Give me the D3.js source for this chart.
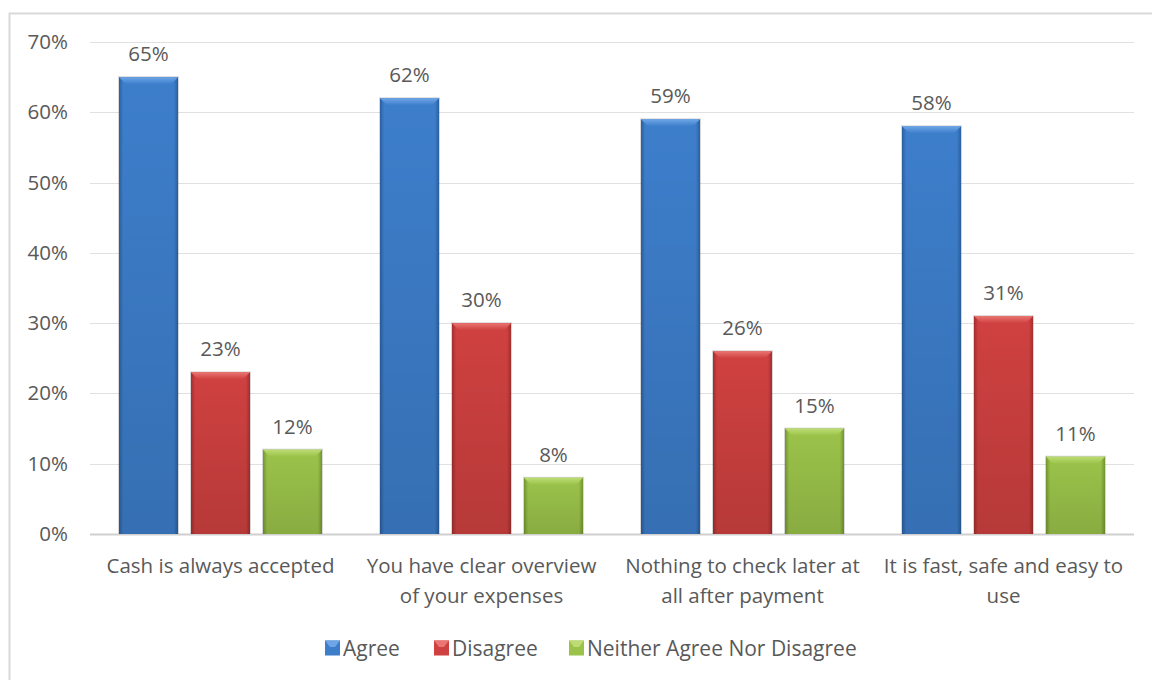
<!DOCTYPE html>
<html>
<head>
<meta charset="utf-8">
<script src="https://cdn.jsdelivr.net/npm/d3@7"></script>
<style>
  html, body { margin: 0; padding: 0; background: #fff; }
  svg { display: block; }
  text { font-family: "Open Sans", "Noto Sans", sans-serif; fill: #595959; }
</style>
</head>
<body>
<svg id="chart" width="1152" height="680"></svg>
<script>
// Survey statements and responses (percent)
const categories = [
  ["Cash is always accepted"],
  ["You have clear overview", "of your expenses"],
  ["Nothing to check later at", "all after payment"],
  ["It is fast, safe and easy to", "use"]
];
const seriesNames = ["Agree", "Disagree", "Neither Agree Nor Disagree"];
const agree = [65, 62, 59, 58];
const disagree = [23, 30, 26, 31];
const neither = [12, 8, 15, 11];
const yTicks = [0, 10, 20, 30, 40, 50, 60, 70];

const palette = [
  { base: "#3d7ecb", light: "#6ea5e6", dark: "#2a5f9f" },
  { base: "#cf4140", light: "#ea7572", dark: "#a12f2e" },
  { base: "#9bc34a", light: "#bddc74", dark: "#739630" }
];

const seriesValues = [agree, disagree, neither];

const svg = d3.select("#chart");
const W = 1152, H = 680;
const margin = { left: 90, right: 18, top: 42, bottom: 146 };
const plotRight = W - margin.right;
const plotBottom = H - margin.bottom;

// outer frame
svg.append("rect")
  .attr("x", 9.5).attr("y", 13.5)
  .attr("width", 1160).attr("height", 700)
  .attr("fill", "none").attr("stroke", "#d9d9d9").attr("stroke-width", 2);

const y = d3.scaleLinear().domain([0, 70]).range([plotBottom, margin.top]);
const x0 = d3.scaleBand().domain(d3.range(categories.length))
  .range([margin.left, plotRight]).padding(0);
const groupPad = 29;
const x1 = d3.scaleBand().domain(d3.range(seriesNames.length))
  .range([groupPad, x0.bandwidth() - groupPad]).paddingInner(0.18).paddingOuter(0);

// gridlines
svg.append("g").selectAll("line").data(yTicks).join("line")
  .attr("x1", margin.left).attr("x2", plotRight)
  .attr("y1", d => Math.round(y(d)) + 0.5).attr("y2", d => Math.round(y(d)) + 0.5)
  .attr("stroke", d => d === 0 ? "#d0d0d0" : "#e0e0e0")
  .attr("stroke-width", d => d === 0 ? 2 : 1);

// y axis labels
const yAxis = d3.axisLeft(y).tickValues(yTicks).tickFormat(d => d + "%").tickSize(0).tickPadding(0);
const yg = svg.append("g").attr("transform", `translate(${margin.left - 22},0)`).call(yAxis);
yg.select(".domain").remove();
yg.selectAll("text").style("font-size", "20.5px").attr("fill", "#595959")
  .style("font-family", "'Open Sans', sans-serif");

// gradients for side shading
const defs = svg.append("defs");
palette.forEach((p, i) => {
  const g = defs.append("linearGradient").attr("id", "side" + i)
    .attr("x1", "0").attr("x2", "1").attr("y1", "0").attr("y2", "0");
  g.append("stop").attr("offset", "0").attr("stop-color", p.dark);
  g.append("stop").attr("offset", "0.07").attr("stop-color", p.base);
  g.append("stop").attr("offset", "0.93").attr("stop-color", p.base);
  g.append("stop").attr("offset", "1").attr("stop-color", p.dark);
  const v = defs.append("linearGradient").attr("id", "vert" + i)
    .attr("x1", "0").attr("x2", "0").attr("y1", "0").attr("y2", "1");
  v.append("stop").attr("offset", "0").attr("stop-color", "#000").attr("stop-opacity", 0);
  v.append("stop").attr("offset", "1").attr("stop-color", "#000").attr("stop-opacity", 0.12);
  const t = defs.append("linearGradient").attr("id", "top" + i)
    .attr("x1", "0").attr("x2", "0").attr("y1", "0").attr("y2", "1");
  t.append("stop").attr("offset", "0").attr("stop-color", p.light);
  t.append("stop").attr("offset", "1").attr("stop-color", p.base);
});

const bev = 7;
const groups = svg.append("g").selectAll("g").data(categories).join("g")
  .attr("transform", (d, i) => `translate(${x0(i)},0)`);

groups.each(function (cat, ci) {
  const g = d3.select(this);
  seriesValues.forEach((vals, si) => {
    const v = vals[ci];
    const bx = x1(si), bw = x1.bandwidth();
    const top = y(v), bot = y(0);
    const p = palette[si];
    // soft shadow outline
    g.append("rect").attr("x", bx - 1).attr("y", top - 1)
      .attr("width", bw + 2).attr("height", bot - top + 1)
      .attr("fill", "#000").attr("opacity", 0.15);
    g.append("rect").attr("x", bx).attr("y", top)
      .attr("width", bw).attr("height", bot - top)
      .attr("fill", `url(#side${si})`);
    g.append("rect").attr("x", bx).attr("y", top)
      .attr("width", bw).attr("height", bot - top)
      .attr("fill", `url(#vert${si})`);
    // bevelled top face
    g.append("path")
      .attr("d", `M${bx},${top} L${bx + bw},${top} L${bx + bw - bev},${top + bev} L${bx + bev},${top + bev} Z`)
      .attr("fill", `url(#top${si})`);
    // value label
    g.append("text")
      .attr("x", bx + bw / 2).attr("y", top - 16)
      .attr("text-anchor", "middle")
      .style("font-size", "20.5px")
      .text(v + "%");
  });
  // category label
  const t = g.append("text")
    .attr("x", x0.bandwidth() / 2).attr("y", plotBottom + 39)
    .attr("text-anchor", "middle").style("font-size", "20.5px");
  cat.forEach((line, li) => {
    t.append("tspan").attr("x", x0.bandwidth() / 2).attr("dy", li === 0 ? 0 : 30).text(line);
  });
});

// legend
const legendX = [325, 434, 569];
const leg = svg.append("g").selectAll("g").data(seriesNames).join("g")
  .attr("transform", (d, i) => `translate(${legendX[i]},648)`);
leg.append("rect").attr("x", 0).attr("y", -7.5).attr("width", 15).attr("height", 15)
  .attr("fill", (d, i) => palette[i].base);
leg.append("path").attr("d", "M0,-7.5 L15,-7.5 L10,-1 L5,-1 Z")
  .attr("fill", (d, i) => palette[i].light);
leg.append("text").attr("x", 18).attr("y", 7.5).style("font-size", "21px").text(d => d);
</script>
</body>
</html>
